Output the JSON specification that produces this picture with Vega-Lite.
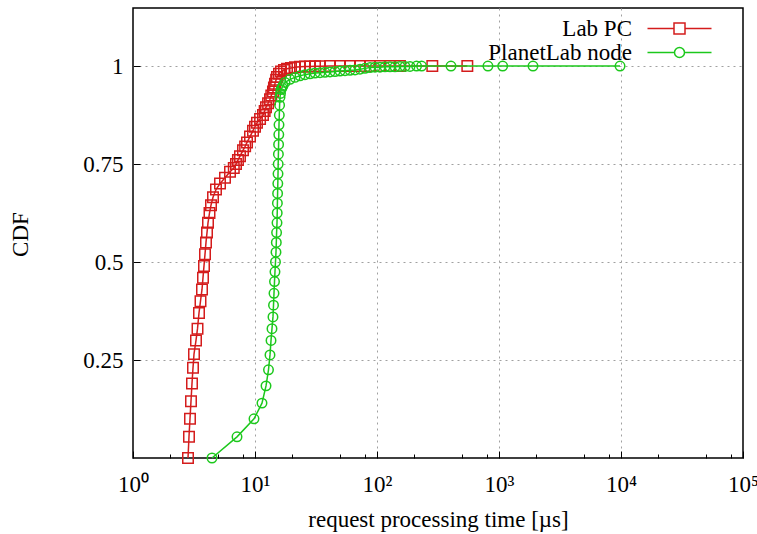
{
  "$schema": "https://vega.github.io/schema/vega-lite/v6.json",
  "width": 610,
  "height": 450,
  "autosize": {"type": "none"},
  "padding": {"left": 133, "top": 8, "right": 14, "bottom": 76},
  "config": {"font": "Liberation Serif", "view": {"stroke": "black", "strokeWidth": 1.5}},
  "data": {"values": [
    {"s": "Lab PC", "x": 2.824, "y": 0},
    {"s": "Lab PC", "x": 2.877, "y": 0.054},
    {"s": "Lab PC", "x": 2.932, "y": 0.10},
    {"s": "Lab PC", "x": 2.988, "y": 0.145},
    {"s": "Lab PC", "x": 3.045, "y": 0.19},
    {"s": "Lab PC", "x": 3.103, "y": 0.23},
    {"s": "Lab PC", "x": 3.162, "y": 0.265},
    {"s": "Lab PC", "x": 3.284, "y": 0.30},
    {"s": "Lab PC", "x": 3.379, "y": 0.33},
    {"s": "Lab PC", "x": 3.475, "y": 0.37},
    {"s": "Lab PC", "x": 3.575, "y": 0.40},
    {"s": "Lab PC", "x": 3.678, "y": 0.43},
    {"s": "Lab PC", "x": 3.748, "y": 0.46},
    {"s": "Lab PC", "x": 3.819, "y": 0.49},
    {"s": "Lab PC", "x": 3.892, "y": 0.52},
    {"s": "Lab PC", "x": 3.966, "y": 0.55},
    {"s": "Lab PC", "x": 4.042, "y": 0.575},
    {"s": "Lab PC", "x": 4.119, "y": 0.60},
    {"s": "Lab PC", "x": 4.237, "y": 0.625},
    {"s": "Lab PC", "x": 4.359, "y": 0.645},
    {"s": "Lab PC", "x": 4.527, "y": 0.665},
    {"s": "Lab PC", "x": 4.789, "y": 0.685},
    {"s": "Lab PC", "x": 5.166, "y": 0.70},
    {"s": "Lab PC", "x": 5.677, "y": 0.715},
    {"s": "Lab PC", "x": 6.239, "y": 0.73},
    {"s": "Lab PC", "x": 6.7, "y": 0.74},
    {"s": "Lab PC", "x": 6.987, "y": 0.75},
    {"s": "Lab PC", "x": 7.25, "y": 0.76},
    {"s": "Lab PC", "x": 7.534, "y": 0.77},
    {"s": "Lab PC", "x": 7.974, "y": 0.785},
    {"s": "Lab PC", "x": 8.3, "y": 0.795},
    {"s": "Lab PC", "x": 8.6, "y": 0.805},
    {"s": "Lab PC", "x": 9.1, "y": 0.82},
    {"s": "Lab PC", "x": 9.63, "y": 0.835},
    {"s": "Lab PC", "x": 10.0, "y": 0.845},
    {"s": "Lab PC", "x": 10.38, "y": 0.855},
    {"s": "Lab PC", "x": 11.0, "y": 0.865},
    {"s": "Lab PC", "x": 11.63, "y": 0.875},
    {"s": "Lab PC", "x": 12.0, "y": 0.885},
    {"s": "Lab PC", "x": 12.31, "y": 0.895},
    {"s": "Lab PC", "x": 12.8, "y": 0.905},
    {"s": "Lab PC", "x": 13.27, "y": 0.915},
    {"s": "Lab PC", "x": 13.6, "y": 0.925},
    {"s": "Lab PC", "x": 14.04, "y": 0.935},
    {"s": "Lab PC", "x": 14.3, "y": 0.945},
    {"s": "Lab PC", "x": 14.58, "y": 0.955},
    {"s": "Lab PC", "x": 14.9, "y": 0.965},
    {"s": "Lab PC", "x": 15.15, "y": 0.972},
    {"s": "Lab PC", "x": 15.73, "y": 0.98},
    {"s": "Lab PC", "x": 16.34, "y": 0.986},
    {"s": "Lab PC", "x": 17.29, "y": 0.99},
    {"s": "Lab PC", "x": 18.3, "y": 0.993},
    {"s": "Lab PC", "x": 19.73, "y": 0.995},
    {"s": "Lab PC", "x": 21.28, "y": 0.997},
    {"s": "Lab PC", "x": 23.38, "y": 0.998},
    {"s": "Lab PC", "x": 25.69, "y": 0.999},
    {"s": "Lab PC", "x": 28.24, "y": 0.999},
    {"s": "Lab PC", "x": 31.03, "y": 0.9995},
    {"s": "Lab PC", "x": 34.11, "y": 0.9995},
    {"s": "Lab PC", "x": 41.19, "y": 1},
    {"s": "Lab PC", "x": 49.75, "y": 1},
    {"s": "Lab PC", "x": 60.08, "y": 1},
    {"s": "Lab PC", "x": 72.56, "y": 1},
    {"s": "Lab PC", "x": 87.63, "y": 1},
    {"s": "Lab PC", "x": 105.8, "y": 1},
    {"s": "Lab PC", "x": 127.8, "y": 1},
    {"s": "Lab PC", "x": 154.3, "y": 1},
    {"s": "Lab PC", "x": 284, "y": 1},
    {"s": "Lab PC", "x": 550, "y": 1},
    {"s": "PlanetLab node", "x": 4.442, "y": 0},
    {"s": "PlanetLab node", "x": 7.121, "y": 0.054},
    {"s": "PlanetLab node", "x": 9.813, "y": 0.10},
    {"s": "PlanetLab node", "x": 11.41, "y": 0.14},
    {"s": "PlanetLab node", "x": 12.31, "y": 0.184},
    {"s": "PlanetLab node", "x": 12.9, "y": 0.225},
    {"s": "PlanetLab node", "x": 13.27, "y": 0.263},
    {"s": "PlanetLab node", "x": 13.53, "y": 0.30},
    {"s": "PlanetLab node", "x": 13.78, "y": 0.33},
    {"s": "PlanetLab node", "x": 14.04, "y": 0.36},
    {"s": "PlanetLab node", "x": 14.18, "y": 0.39},
    {"s": "PlanetLab node", "x": 14.31, "y": 0.42},
    {"s": "PlanetLab node", "x": 14.45, "y": 0.45},
    {"s": "PlanetLab node", "x": 14.58, "y": 0.475},
    {"s": "PlanetLab node", "x": 14.72, "y": 0.50},
    {"s": "PlanetLab node", "x": 14.86, "y": 0.525},
    {"s": "PlanetLab node", "x": 14.95, "y": 0.55},
    {"s": "PlanetLab node", "x": 15.03, "y": 0.575},
    {"s": "PlanetLab node", "x": 15.15, "y": 0.60},
    {"s": "PlanetLab node", "x": 15.21, "y": 0.625},
    {"s": "PlanetLab node", "x": 15.26, "y": 0.65},
    {"s": "PlanetLab node", "x": 15.32, "y": 0.675},
    {"s": "PlanetLab node", "x": 15.38, "y": 0.70},
    {"s": "PlanetLab node", "x": 15.44, "y": 0.725},
    {"s": "PlanetLab node", "x": 15.49, "y": 0.75},
    {"s": "PlanetLab node", "x": 15.55, "y": 0.775},
    {"s": "PlanetLab node", "x": 15.61, "y": 0.80},
    {"s": "PlanetLab node", "x": 15.67, "y": 0.825},
    {"s": "PlanetLab node", "x": 15.73, "y": 0.85},
    {"s": "PlanetLab node", "x": 15.82, "y": 0.875},
    {"s": "PlanetLab node", "x": 15.91, "y": 0.90},
    {"s": "PlanetLab node", "x": 16.03, "y": 0.92},
    {"s": "PlanetLab node", "x": 16.18, "y": 0.93},
    {"s": "PlanetLab node", "x": 16.34, "y": 0.94},
    {"s": "PlanetLab node", "x": 16.65, "y": 0.945},
    {"s": "PlanetLab node", "x": 16.97, "y": 0.95},
    {"s": "PlanetLab node", "x": 17.62, "y": 0.958},
    {"s": "PlanetLab node", "x": 19.36, "y": 0.966},
    {"s": "PlanetLab node", "x": 21.28, "y": 0.971},
    {"s": "PlanetLab node", "x": 23.38, "y": 0.975},
    {"s": "PlanetLab node", "x": 25.69, "y": 0.978},
    {"s": "PlanetLab node", "x": 28.24, "y": 0.98},
    {"s": "PlanetLab node", "x": 31.03, "y": 0.982},
    {"s": "PlanetLab node", "x": 34.11, "y": 0.983},
    {"s": "PlanetLab node", "x": 37.48, "y": 0.984},
    {"s": "PlanetLab node", "x": 41.19, "y": 0.985},
    {"s": "PlanetLab node", "x": 45.26, "y": 0.986},
    {"s": "PlanetLab node", "x": 49.75, "y": 0.987},
    {"s": "PlanetLab node", "x": 54.67, "y": 0.988},
    {"s": "PlanetLab node", "x": 60.08, "y": 0.989},
    {"s": "PlanetLab node", "x": 66.02, "y": 0.99},
    {"s": "PlanetLab node", "x": 72.56, "y": 0.992},
    {"s": "PlanetLab node", "x": 79.74, "y": 0.994},
    {"s": "PlanetLab node", "x": 87.63, "y": 0.996},
    {"s": "PlanetLab node", "x": 96.3, "y": 0.997},
    {"s": "PlanetLab node", "x": 105.8, "y": 0.997},
    {"s": "PlanetLab node", "x": 116.3, "y": 0.998},
    {"s": "PlanetLab node", "x": 127.8, "y": 0.998},
    {"s": "PlanetLab node", "x": 140.4, "y": 0.998},
    {"s": "PlanetLab node", "x": 154.3, "y": 0.999},
    {"s": "PlanetLab node", "x": 169.6, "y": 0.999},
    {"s": "PlanetLab node", "x": 186.4, "y": 0.999},
    {"s": "PlanetLab node", "x": 211, "y": 1},
    {"s": "PlanetLab node", "x": 232, "y": 1},
    {"s": "PlanetLab node", "x": 404, "y": 1},
    {"s": "PlanetLab node", "x": 812, "y": 1},
    {"s": "PlanetLab node", "x": 1072, "y": 1},
    {"s": "PlanetLab node", "x": 1900, "y": 1},
    {"s": "PlanetLab node", "x": 9820, "y": 1}
  ]},
  "encoding": {
    "x": {
      "field": "x",
      "type": "quantitative",
      "scale": {"type": "log", "domain": [1, 100000], "nice": false},
      "axis": {
        "values": [1, 2, 5, 8, 10, 20, 50, 80, 100, 200, 500, 800, 1000, 2000, 5000, 8000, 10000, 20000, 50000, 80000, 100000],
        "labelExpr": "indexof([1,10,100,1000,10000,100000], datum.value) >= 0 ? '10' + ['⁰','¹','²','³','⁴','⁵'][round(log(datum.value)/LN10)] : ''",
        "labelFlush": false,
        "labelOverlap": false,
        "labelFontSize": 23,
        "labelColor": "black",
        "labelBaseline": "alphabetic",
        "labelPadding": 40,
        "domain": false,
        "grid": true,
        "gridDash": [2, 4],
        "gridColor": "#a0a0a0",
        "gridWidth": 1,
        "gridOpacity": {"condition": {"test": "indexof([10,100,1000,10000], datum.value) >= 0", "value": 1}, "value": 0},
        "tickColor": "black",
        "tickWidth": 1,
        "tickSize": {"condition": {"test": "indexof([1,10,100,1000,10000,100000], datum.value) >= 0", "value": -7}, "value": -4},
        "title": "request processing time [µs]",
        "titleFontSize": 23,
        "titleFontWeight": "normal",
        "titleColor": "black",
        "titleBaseline": "alphabetic",
        "titleY": 68
      }
    },
    "y": {
      "field": "y",
      "type": "quantitative",
      "scale": {"domain": [0, 1.148], "nice": false, "zero": false},
      "axis": {
        "values": [0.25, 0.5, 0.75, 1],
        "labelExpr": "'' + datum.value",
        "labelFontSize": 23,
        "labelColor": "black",
        "labelPadding": 17,
        "domain": false,
        "grid": true,
        "gridDash": [2, 4],
        "gridColor": "#a0a0a0",
        "gridWidth": 1,
        "tickColor": "black",
        "tickWidth": 1,
        "tickSize": -7,
        "title": "CDF",
        "titleFontSize": 23,
        "titleFontWeight": "normal",
        "titleColor": "black",
        "titleAngle": 270,
        "titleAlign": "center",
        "titleBaseline": "alphabetic",
        "titleX": -106,
        "titleY": 226
      }
    },
    "color": {
      "field": "s",
      "type": "nominal",
      "scale": {"domain": ["Lab PC", "PlanetLab node"], "range": ["#d41c1c", "#1cc81c"]},
      "legend": {
        "orient": "none",
        "legendX": 535,
        "legendY": 9,
        "title": null,
        "padding": 0,
        "labelFontSize": 23,
        "labelColor": "black",
        "labelAlign": "right",
        "labelOffset": -59,
        "labelLimit": 400,
        "symbolSize": 100,
        "symbolStrokeWidth": 1.5,
        "symbolOpacity": 1,
        "symbolFillColor": "transparent",
        "rowPadding": 0
      }
    }
  },
  "layer": [
    {
      "transform": [{"filter": "datum.s === 'Lab PC'"}],
      "mark": {"type": "line", "strokeWidth": 1.5}
    },
    {
      "transform": [{"filter": "datum.s === 'Lab PC'"}],
      "mark": {"type": "point", "shape": "square", "size": 110, "filled": false, "strokeWidth": 1.5, "opacity": 1}
    },
    {
      "transform": [{"filter": "datum.s === 'PlanetLab node'"}],
      "mark": {"type": "line", "strokeWidth": 1.5}
    },
    {
      "transform": [{"filter": "datum.s === 'PlanetLab node'"}],
      "mark": {"type": "point", "shape": "circle", "size": 90, "filled": false, "strokeWidth": 1.5, "opacity": 1}
    },
    {
      "mark": {"type": "point", "filled": false, "opacity": 0, "size": 1},
      "encoding": {
        "shape": {
          "field": "s",
          "type": "nominal",
          "scale": {
            "domain": ["Lab PC", "PlanetLab node"],
            "range": ["M-6.4,0H-1.1M1.1,0H6.4M-1.1,-1.1H1.1V1.1H-1.1Z", "M-6.4,0H-1M1,0H6.4M1,0A1,1 0 1,1 -1,0A1,1 0 1,1 1,0"]
          }
        }
      }
    }
  ]
}
